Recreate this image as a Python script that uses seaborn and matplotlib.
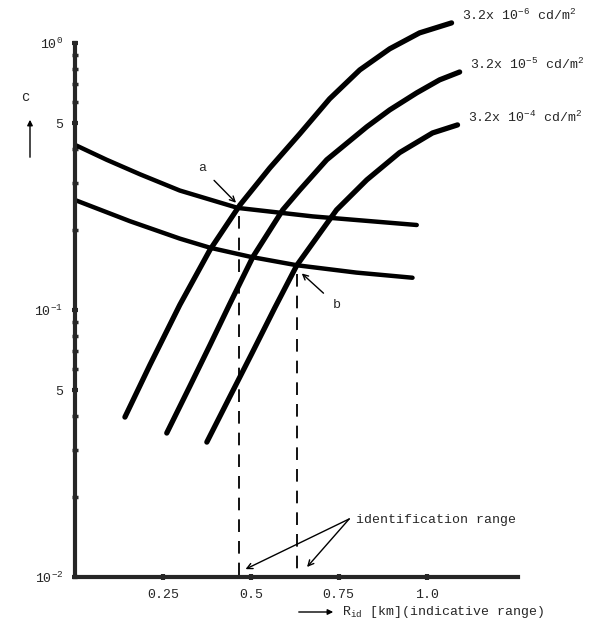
import numpy as np
import matplotlib
matplotlib.use("Agg")
import matplotlib.pyplot as plt
import seaborn as sns

# visibility curves (contrast needed vs range) for three background luminances
lum_labels = ["3.2x 10$^{-6}$ cd/m$^{2}$", "3.2x 10$^{-5}$ cd/m$^{2}$", "3.2x 10$^{-4}$ cd/m$^{2}$"]
vis_x = [
    [0.142, 0.213, 0.298, 0.384, 0.469, 0.554, 0.639, 0.724, 0.810, 0.895, 0.980, 1.071],
    [0.261, 0.327, 0.384, 0.440, 0.506, 0.591, 0.639, 0.716, 0.830, 0.895, 0.972, 1.037, 1.094],
    [0.375, 0.440, 0.503, 0.568, 0.631, 0.744, 0.830, 0.923, 1.017, 1.088],
]
vis_c = [
    [0.0397, 0.0622, 0.1044, 0.168, 0.247, 0.340, 0.456, 0.617, 0.792, 0.950, 1.090, 1.188],
    [0.0346, 0.0519, 0.0739, 0.1052, 0.158, 0.237, 0.281, 0.365, 0.485, 0.561, 0.650, 0.727, 0.778],
    [0.0320, 0.0472, 0.0687, 0.1017, 0.147, 0.237, 0.307, 0.388, 0.460, 0.493],
]

# object contrast curves (falling with range)
upper_x = [0.0, 0.090, 0.185, 0.298, 0.463, 0.676, 0.972]
upper_c = [0.415, 0.365, 0.322, 0.280, 0.241, 0.224, 0.208]
lower_x = [0.0, 0.156, 0.298, 0.384, 0.500, 0.631, 0.800, 0.960]
lower_c = [0.258, 0.215, 0.185, 0.171, 0.158, 0.147, 0.138, 0.132]

# identification ranges (points a and b)
a_pt = (0.466, 0.241)
b_pt = (0.630, 0.147)

xticks = [0.25, 0.5, 0.75, 1.0]
xtick_labels = ["0.25", "0.5", "0.75", "1.0"]
yticks = [0.01, 0.05, 0.1, 0.5, 1.0]
ytick_labels = ["10$^{-2}$", "5", "10$^{-1}$", "5", "10$^{0}$"]

sns.set_style("white")
plt.rcParams["font.family"] = ["Liberation Mono", "DejaVu Sans Mono"]
plt.rcParams["mathtext.fontset"] = "custom"
plt.rcParams["mathtext.rm"] = "Liberation Mono"
plt.rcParams["mathtext.it"] = "Liberation Mono"

fig = plt.figure(figsize=(6, 6.31), dpi=100)
ax = fig.add_axes([75 / 600, 1 - 577 / 631, 443 / 600, (577 - 17) / 631])

for xs, cs in zip(vis_x, vis_c):
    sns.lineplot(x=xs, y=cs, ax=ax, color="black", lw=3.8, sort=False,
                 solid_capstyle="round", solid_joinstyle="round", clip_on=False)
for xs, cs in [(upper_x, upper_c), (lower_x, lower_c)]:
    sns.lineplot(x=xs, y=cs, ax=ax, color="black", lw=3.2, sort=False,
                 solid_capstyle="round", solid_joinstyle="round")

ax.set_yscale("log")
ax.set_xlim(0, 1.26)
ax.set_ylim(0.01, 1.25)

# dashed drops to the x axis
for px, pc in [a_pt, b_pt]:
    ax.plot([px, px], [pc * 0.93, 0.0101], color="black", lw=1.3, dashes=(7, 5))

# curve labels at the right ends
for xs, cs, lab in zip(vis_x, vis_c, lum_labels):
    ax.text(xs[-1] + 0.03, cs[-1], lab, fontsize=9.5, va="bottom", ha="left", clip_on=False)

# a / b markers
ax.annotate("a", xy=(0.458, 0.252), xytext=(0.361, 0.340), fontsize=9.5, ha="center", va="center",
            arrowprops=dict(arrowstyle="->", color="black", lw=1.0, shrinkA=5, shrinkB=0))
ax.annotate("b", xy=(0.645, 0.137), xytext=(0.745, 0.104), fontsize=9.5, ha="center", va="center",
            arrowprops=dict(arrowstyle="->", color="black", lw=1.0, shrinkA=6, shrinkB=0))

# identification range label
ax.text(0.799, 0.0155, "identification range", fontsize=9.5, ha="left", va="bottom")
for tip in [(0.485, 0.0107), (0.660, 0.0109)]:
    ax.annotate("", xy=tip, xytext=(0.78, 0.0165),
                arrowprops=dict(arrowstyle="->", color="black", lw=1.0, shrinkA=0, shrinkB=0))

# axes styling
sns.despine(ax=ax)
ax.spines["left"].set_linewidth(3)
ax.spines["bottom"].set_linewidth(3)
ax.spines["left"].set_bounds(0.01, 1.0)
ax.spines["bottom"].set_bounds(0, 1.26)
ax.set_xticks(xticks)
ax.set_xticklabels(xtick_labels, fontsize=9.5)
ax.set_yticks(yticks)
ax.set_yticklabels(ytick_labels, fontsize=9.5)
minor = [m * d for d in [0.01, 0.1] for m in [2, 3, 4, 6, 7, 8, 9]]
ax.set_yticks(minor, minor=True)
ax.set_yticklabels([], minor=True)
ax.tick_params(axis="both", which="major", direction="inout", length=5, width=3, pad=6,
               left=True, bottom=True)
ax.tick_params(axis="y", which="minor", direction="inout", length=4, width=2.5, left=True)
ax.set_xlabel("")
ax.set_ylabel("")

# axis titles drawn as text + arrows in figure pixels
fig.text(25 / 600, 1 - 97 / 631, "c", fontsize=10, ha="center", va="center")
fig.add_artist(matplotlib.patches.FancyArrowPatch(
    (30 / 600, 1 - 160 / 631), (30 / 600, 1 - 117 / 631), transform=fig.transFigure,
    arrowstyle="-|>", mutation_scale=8, color="black", lw=1.0))
fig.add_artist(matplotlib.patches.FancyArrowPatch(
    (296 / 600, 1 - 612 / 631), (336 / 600, 1 - 612 / 631), transform=fig.transFigure,
    arrowstyle="-|>", mutation_scale=8, color="black", lw=1.0))
fig.text(342 / 600, 1 - 612 / 631, "R$_{\\mathrm{id}}$ [km](indicative range)", fontsize=9.5,
         ha="left", va="center")

fig.savefig("out.png", dpi=100)
